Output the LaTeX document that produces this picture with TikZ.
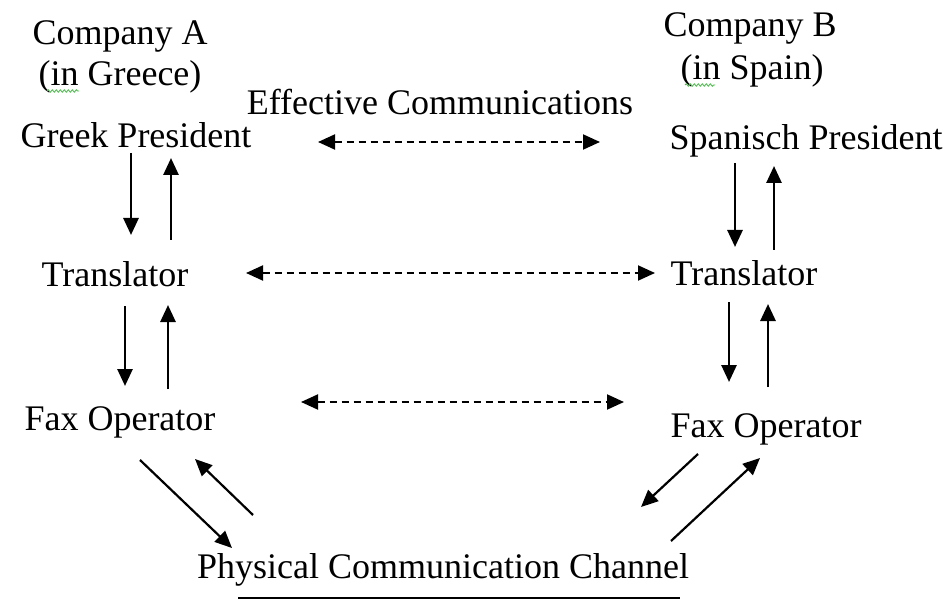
\documentclass[tikz,border=0pt]{standalone}
\usepackage{fontspec}
\setmainfont{Liberation Serif}
\usetikzlibrary{arrows.meta,decorations.pathmorphing}
\begin{document}
\begin{tikzpicture}[x=1pt,y=-1pt,
  lbl/.style={inner sep=0pt,anchor=base,font=\fontsize{36}{40}\selectfont},
  flow/.style={line width=2.8pt,-{Triangle[length=17pt,width=15pt]}},
  peer/.style={line width=2pt,dash pattern=on 7pt off 5pt,
    {Triangle[length=17pt,width=15pt]}-{Triangle[length=17pt,width=15pt]}},
  spell/.style={draw=green!45!gray,line width=0.8pt,
    decorate,decoration={snake,amplitude=1.2pt,segment length=4pt}}]
\useasboundingbox[fill=white] (0,0) rectangle (949,601);

% headings
\node[lbl] (coA) at (120,45) {Company A};
\node[lbl] (inA) at (120,86) {(in Greece)};
\node[lbl] (coB) at (750,37) {Company B};
\node[lbl] (inB) at (752,80) {(in Spain)};
\node[lbl] (eff) at (440,115) {Effective Communications};

% the two stacks of roles
\node[lbl] (gp) at (136,148) {Greek President};
\node[lbl] (sp) at (806,150) {Spanisch President};
\node[lbl] (trA) at (115,287) {Translator};
\node[lbl] (trB) at (744,285) {Translator};
\node[lbl] (faxA) at (120,430) {Fax Operator};
\node[lbl] (faxB) at (766,437) {Fax Operator};
\node[lbl] (chan) at (443,578) {Physical Communication Channel};

% spelling marks under "in"
\draw[spell] (47,91) -- (79,91);
\draw[spell] (685,85) -- (715,85);

% arrow end points
\coordinate (a1s) at (131,153); \coordinate (a1e) at (131,235);
\coordinate (a2s) at (171,240); \coordinate (a2e) at (171,158);
\coordinate (a3s) at (125,306); \coordinate (a3e) at (125,386);
\coordinate (a4s) at (168,389); \coordinate (a4e) at (168,305);
\coordinate (b1s) at (735,163); \coordinate (b1e) at (735,247);
\coordinate (b2s) at (774,250); \coordinate (b2e) at (774,166);
\coordinate (b3s) at (729,302); \coordinate (b3e) at (729,382);
\coordinate (b4s) at (768,387); \coordinate (b4e) at (768,304);
\coordinate (c1s) at (140,460); \coordinate (c1e) at (232,548);
\coordinate (c2s) at (253,515); \coordinate (c2e) at (195,459);
\coordinate (c3s) at (698,454); \coordinate (c3e) at (641,507);
\coordinate (c4s) at (671,541); \coordinate (c4e) at (760,458);
\coordinate (d1s) at (318,142); \coordinate (d1e) at (600,142);
\coordinate (d2s) at (246,273); \coordinate (d2e) at (655,273);
\coordinate (d3s) at (301,402); \coordinate (d3e) at (624,402);

% vertical message flow
\draw[flow] (a1s) -- (a1e);
\draw[flow] (a2s) -- (a2e);
\draw[flow] (a3s) -- (a3e);
\draw[flow] (a4s) -- (a4e);
\draw[flow] (b1s) -- (b1e);
\draw[flow] (b2s) -- (b2e);
\draw[flow] (b3s) -- (b3e);
\draw[flow] (b4s) -- (b4e);

% to and from the channel
\draw[flow,line width=2.2pt] (c1s) -- (c1e);
\draw[flow,line width=2.2pt] (c2s) -- (c2e);
\draw[flow,line width=2.2pt] (c3s) -- (c3e);
\draw[flow,line width=2.2pt] (c4s) -- (c4e);

% peer-level communication
\draw[peer] (d1s) -- (d1e);
\draw[peer] (d2s) -- (d2e);
\draw[peer] (d3s) -- (d3e);

% channel line
\coordinate (ul) at (238,598); \coordinate (ur) at (680,598);
\draw[line width=2pt] (ul) -- (ur);
\end{tikzpicture}
\end{document}
